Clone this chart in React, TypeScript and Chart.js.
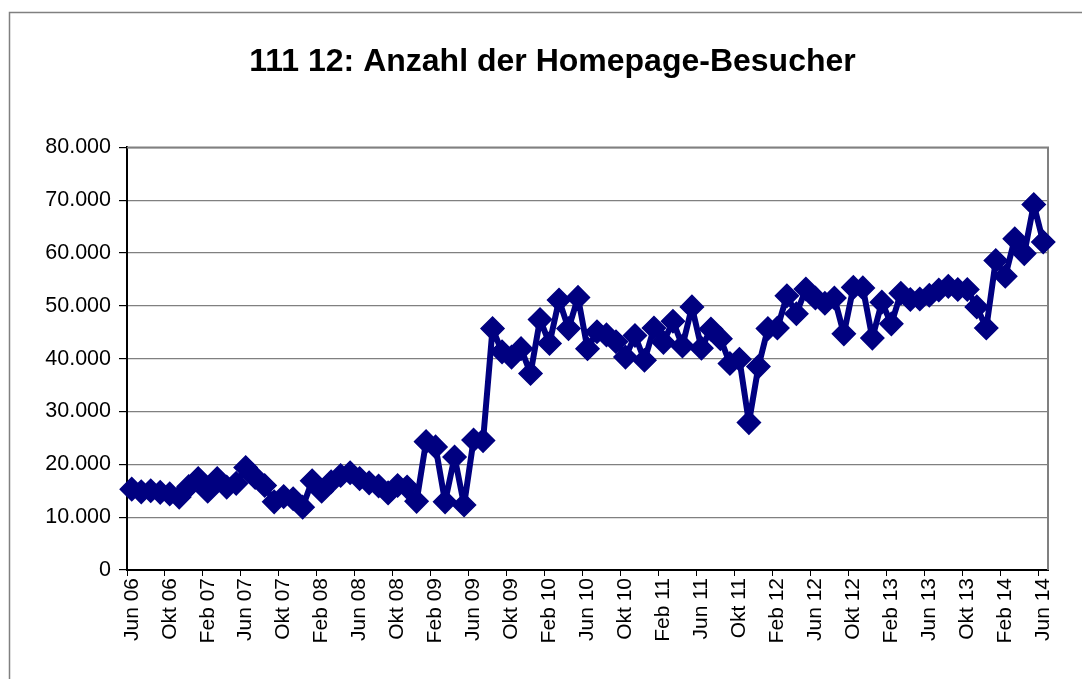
import React, { useEffect, useRef } from "react";
import { Chart, registerables } from "chart.js";

Chart.register(...registerables);

const TITLE = "111 12: Anzahl der Homepage-Besucher";

// Monthly categories Jun 06 .. Jun 14
const CATEGORIES: string[] = [
  "Jun 06", "Jul 06", "Aug 06", "Sep 06", "Okt 06", "Nov 06", "Dez 06",
  "Jan 07", "Feb 07", "Mrz 07", "Apr 07", "Mai 07", "Jun 07", "Jul 07", "Aug 07", "Sep 07", "Okt 07", "Nov 07", "Dez 07",
  "Jan 08", "Feb 08", "Mrz 08", "Apr 08", "Mai 08", "Jun 08", "Jul 08", "Aug 08", "Sep 08", "Okt 08", "Nov 08", "Dez 08",
  "Jan 09", "Feb 09", "Mrz 09", "Apr 09", "Mai 09", "Jun 09", "Jul 09", "Aug 09", "Sep 09", "Okt 09", "Nov 09", "Dez 09",
  "Jan 10", "Feb 10", "Mrz 10", "Apr 10", "Mai 10", "Jun 10", "Jul 10", "Aug 10", "Sep 10", "Okt 10", "Nov 10", "Dez 10",
  "Jan 11", "Feb 11", "Mrz 11", "Apr 11", "Mai 11", "Jun 11", "Jul 11", "Aug 11", "Sep 11", "Okt 11", "Nov 11", "Dez 11",
  "Jan 12", "Feb 12", "Mrz 12", "Apr 12", "Mai 12", "Jun 12", "Jul 12", "Aug 12", "Sep 12", "Okt 12", "Nov 12", "Dez 12",
  "Jan 13", "Feb 13", "Mrz 13", "Apr 13", "Mai 13", "Jun 13", "Jul 13", "Aug 13", "Sep 13", "Okt 13", "Nov 13", "Dez 13",
  "Jan 14", "Feb 14", "Mrz 14", "Apr 14", "Mai 14", "Jun 14",
];

// Labels shown on the x axis (every 4th month)
const TICK_LABELS: string[] = [
  "Jun 06", "Okt 06", "Feb 07", "Jun 07", "Okt 07", "Feb 08", "Jun 08", "Okt 08",
  "Feb 09", "Jun 09", "Okt 09", "Feb 10", "Jun 10", "Okt 10", "Feb 11", "Jun 11",
  "Okt 11", "Feb 12", "Jun 12", "Okt 12", "Feb 13", "Jun 13", "Okt 13", "Feb 14", "Jun 14",
];

const VISITORS_2006: number[] = [15300, 14800, 15000, 14700, 14400, 13800, 15800];
const VISITORS_2007: number[] = [17300, 14900, 17300, 15700, 16400, 19400, 17500, 16000, 12900, 13900, 13500, 11900];
const VISITORS_2008: number[] = [16900, 14900, 16700, 17900, 18400, 17300, 16500, 15900, 14600, 16000, 15700, 13000];
const VISITORS_2009: number[] = [24300, 23300, 12900, 21400, 12300, 24600, 24500, 45700, 41300, 40300, 41900, 37200];
const VISITORS_2010: number[] = [47400, 42900, 51100, 45700, 51600, 41900, 45100, 44500, 43200, 40300, 44400, 39700];
const VISITORS_2011: number[] = [45800, 43100, 47100, 42400, 49800, 42000, 45600, 43800, 39100, 39900, 27900, 38500];
const VISITORS_2012: number[] = [45700, 45800, 51900, 48500, 53200, 51500, 50500, 51500, 44700, 53500, 53400, 43900];
const VISITORS_2013: number[] = [50700, 46600, 52400, 51200, 51300, 52000, 53000, 53700, 53100, 53100, 49800, 45800];
const VISITORS_2014: number[] = [58600, 55600, 62700, 59900, 69200, 62100];

const VISITORS: number[] = [
  ...VISITORS_2006, ...VISITORS_2007, ...VISITORS_2008, ...VISITORS_2009, ...VISITORS_2010,
  ...VISITORS_2011, ...VISITORS_2012, ...VISITORS_2013, ...VISITORS_2014,
];

const Y_MIN = 0;
const Y_MAX = 80000;
const Y_STEP = 10000;

const NAVY = "#000080";
const FONT = "'Liberation Sans', Arial, Helvetica, sans-serif";

const fmt = (v: number) => String(v).replace(/\B(?=(\d{3})+(?!\d))/g, ".");

const framePlugin = {
  id: "frame",
  afterLayout(chart: any) {
    const t = chart.titleBlock;
    if (t) {
      t.left += 10;
      t.right += 10;
    }
  },
  beforeDraw(chart: any) {
    const ctx = chart.ctx;
    ctx.save();
    ctx.strokeStyle = "#808080";
    ctx.lineWidth = 1.5;
    ctx.strokeRect(9.5, 12.5, 2000, 2000);
    ctx.restore();
  },
  beforeDatasetsDraw(chart: any) {
    const { ctx, chartArea } = chart;
    ctx.save();
    ctx.strokeStyle = "#808080";
    ctx.lineWidth = 2;
    ctx.beginPath();
    ctx.moveTo(chartArea.left, chartArea.top);
    ctx.lineTo(chartArea.right, chartArea.top);
    ctx.lineTo(chartArea.right, chartArea.bottom);
    ctx.stroke();
    ctx.restore();
  },
};

export default function App() {
  const canvasRef = useRef<HTMLCanvasElement | null>(null);

  useEffect(() => {
    if (!canvasRef.current) return;
    const chart = new Chart(canvasRef.current, {
      type: "line",
      data: {
        labels: CATEGORIES,
        datasets: [
          {
            label: "Besucher",
            data: VISITORS,
            borderColor: NAVY,
            backgroundColor: NAVY,
            borderWidth: 6,
            borderJoinStyle: "round",
            tension: 0,
            pointStyle: "rectRot",
            pointRadius: 11.5,
            pointBorderWidth: 1.5,
            pointBackgroundColor: NAVY,
            pointBorderColor: NAVY,
          },
        ],
      },
      options: {
        animation: false,
        responsive: false,
        layout: { padding: { left: 37, right: 34, top: 0, bottom: 0 } },
        plugins: {
          legend: { display: false },
          tooltip: { enabled: false },
          title: {
            display: true,
            text: TITLE,
            color: "#000",
            font: { family: FONT, size: 32, weight: "bold" },
            padding: { top: 43, bottom: 66 },
          },
        },
        scales: {
          x: {
            type: "category",
            offset: true,
            afterFit: (s: any) => {
              s.height = 109;
            },
            grid: {
              offset: true,
              drawOnChartArea: false,
              drawTicks: true,
              tickLength: 6,
              tickColor: (ctx: any) => (ctx.index % 4 === 0 ? "#000" : "rgba(0,0,0,0)"),
              color: (ctx: any) => (ctx.index % 4 === 0 ? "#000" : "rgba(0,0,0,0)"),
            },
            border: { color: "#000", width: 2 },
            ticks: {
              autoSkip: false,
              maxRotation: 90,
              minRotation: 90,
              padding: 2,
              color: "#000",
              font: { family: FONT, size: 21 },
              callback: (_v: any, i: number) =>
                TICK_LABELS.includes(CATEGORIES[i]) && i % 4 === 0 ? CATEGORIES[i] : "",
            },
          },
          y: {
            min: Y_MIN,
            max: Y_MAX,
            afterFit: (s: any) => {
              s.width = 90;
            },
            grid: {
              color: "#808080",
              lineWidth: 1.2,
              drawTicks: true,
              tickLength: 8,
              tickColor: "#000",
            },
            border: { color: "#000", width: 2 },
            ticks: {
              stepSize: Y_STEP,
              padding: 8,
              color: "#000",
              font: { family: FONT, size: 21.5 },
              callback: (v: any) => fmt(Number(v)),
            },
          },
        },
      },
      plugins: [framePlugin],
    } as any);
    return () => chart.destroy();
  }, []);

  return (
    <div style={{ position: "absolute", left: 0, top: 0, width: 1082, height: 679, background: "#fff" }}>
      <canvas ref={canvasRef} width={1082} height={679} style={{ display: "block" }} />
    </div>
  );
}
